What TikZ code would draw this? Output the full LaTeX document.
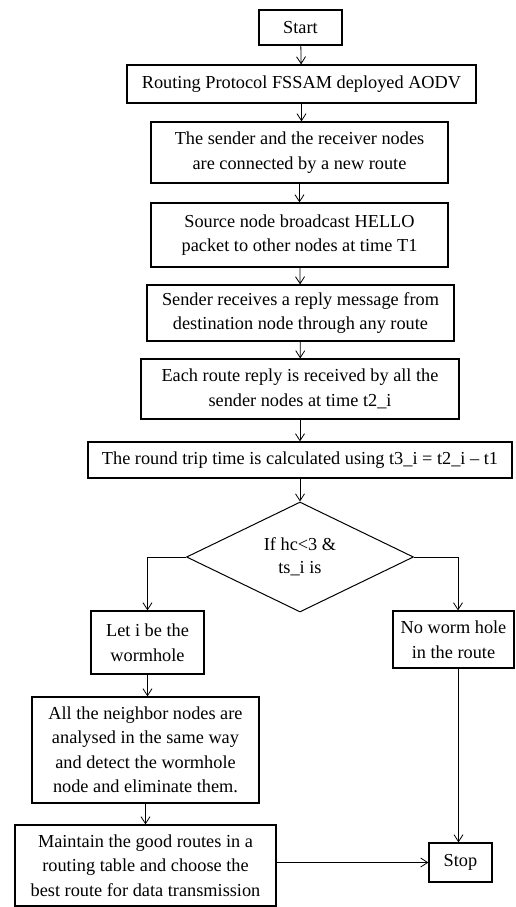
\documentclass[tikz,border=0pt]{standalone}
\usepackage{fontspec}
\setmainfont{Liberation Serif}
\usetikzlibrary{shapes.geometric,arrows.meta}
\begin{document}
\begin{tikzpicture}[x=1pt,y=-1pt,
  box/.style={draw,line width=1.2pt,rectangle,inner sep=0pt,align=center,font=\fontsize{18.3}{24.5}\selectfont},
  conn/.style={line width=0.8pt,-{Straight Barb[length=7pt,width=9pt,line width=0.8pt]}},
  plainline/.style={line width=0.8pt}]
\useasboundingbox (0,0) rectangle (516,907);
\node[box,minimum width=83pt,minimum height=35pt] (start) at (300.5,27.5) {Start};
\node[box,minimum width=349pt,minimum height=38pt] (rp) at (301.5,84) {Routing Protocol FSSAM deployed AODV};
\node[box,minimum width=297pt,minimum height=61pt] (snd) at (299.5,152.5) {The sender and the receiver nodes\\are connected by a new route};
\node[box,minimum width=297pt,minimum height=64pt] (src) at (299.5,235) {Source node broadcast HELLO\\packet to other nodes at time T1};
\node[box,minimum width=307pt,minimum height=56pt] (rcv) at (300.5,313) {Sender receives a reply message from\\destination node through any route};
\node[box,minimum width=318pt,minimum height=60pt] (each) at (300,389) {Each route reply is received by all the\\sender nodes at time t2\_i};
\node[box,minimum width=424pt,minimum height=36pt] (rtt) at (300,460) {The round trip time is calculated using t3\_i = t2\_i – t1};
\node[draw,line width=1pt,diamond,shape aspect=2,inner sep=0pt,minimum width=227pt,minimum height=110pt,align=center,font=\fontsize{18.3}{23}\selectfont] (d) at (300,557) {If hc<3 \&\\ts\_i is};
\node[box,minimum width=113pt,minimum height=63pt] (leti) at (147.5,642.5) {Let i be the\\wormhole};
\node[box,minimum width=121pt,minimum height=57pt] (nw) at (453.5,639.5) {No worm hole\\in the route};
\node[box,minimum width=227pt,minimum height=106pt] (all) at (145.5,750) {All the neighbor nodes are\\analysed in the same way\\and detect the wormhole\\node and eliminate them.};
\node[box,minimum width=261pt,minimum height=81pt] (mt) at (145.5,865.5) {Maintain the good routes in a\\routing table and choose the\\best route for data transmission};
\node[box,minimum width=63pt,minimum height=39pt] (stop) at (460.5,862.5) {Stop};
\draw[conn] (start) -- (rp);
\draw[conn] (rp) -- (rp.south |- snd.north);
\draw[conn] (snd) -- (src);
\draw[conn] (src) -- (rcv);
\draw[conn] (rcv) -- (each);
\draw[conn] (each) -- (rtt);
\draw[conn] (rtt) -- (d);
\draw[conn] (d.west) -| (leti.north);
\draw[conn] (d.east) -| ([xshift=4.5pt]nw.north);
\draw[conn] (leti) -- (leti.south |- all.north);
\draw[conn] (all) -- (mt);
\draw[conn] ([xshift=5pt]nw.south) -- ([xshift=5pt]nw.south |- stop.north);
\draw[conn] (mt.east |- stop.west) -- (stop.west);
\end{tikzpicture}
\end{document}
